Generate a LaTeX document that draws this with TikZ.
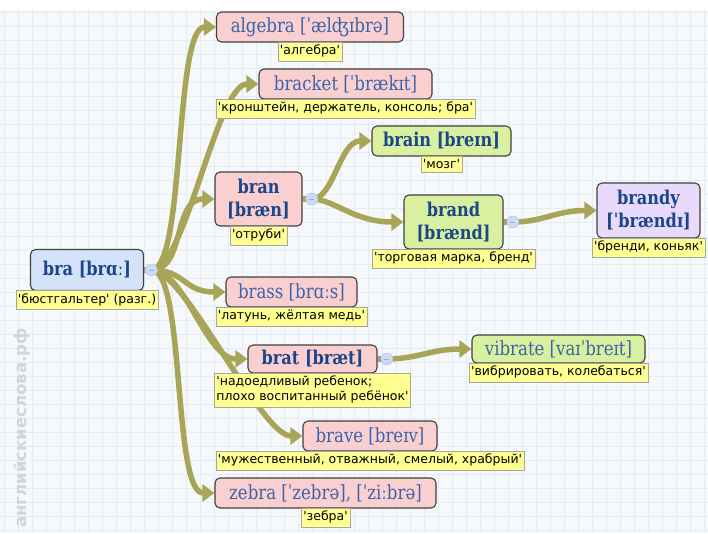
\documentclass[tikz,border=0pt]{standalone}
\usepackage{fontspec}
\setmainfont{DejaVu Serif}[FakeStretch=0.85]
\newfontfamily\glossfont{DejaVu Sans}[Ligatures=TeXOff]
\newfontfamily\markfont{DejaVu Sans}
\usetikzlibrary{positioning,arrows.meta}

\definecolor{linkolive}{RGB}{168,165,88}
\definecolor{wordpink}{RGB}{250,207,207}
\definecolor{wordgreen}{RGB}{216,240,160}
\definecolor{wordviolet}{RGB}{232,218,250}
\definecolor{wordblue}{RGB}{212,226,250}
\definecolor{glossyellow}{RGB}{255,255,145}
\definecolor{inkblue}{RGB}{28,70,138}
\definecolor{inklight}{RGB}{60,100,170}
\definecolor{paper}{RGB}{246,249,252}
\definecolor{gridblue}{RGB}{228,235,243}
\definecolor{knobblue}{RGB}{205,220,245}

\pgfdeclarelayer{grid}
\pgfdeclarelayer{links}
\pgfsetlayers{grid,links,main}

\tikzset{
  lex/.style={draw=black!75, line width=1.1pt, rounded corners=5pt,
    minimum height=30pt, inner xsep=4pt, inner ysep=2pt, align=center},
  lexplain/.style={lex, text=inklight, font=\fontsize{19.5}{23}\selectfont},
  lexbold/.style={lex, text=inkblue, font=\fontsize{19}{23}\selectfont\bfseries},
  gloss/.style={draw=black!35, fill=glossyellow, inner xsep=2pt, inner ysep=3.5pt,
    align=left, font=\glossfont\fontsize{12.5}{15}\selectfont},
  link/.style={draw=linkolive, line width=5.5pt, -{Triangle[length=12pt,width=17pt]}},
  knob/.style={circle, draw=knobblue!70!blue!60, fill=knobblue, line width=0.6pt,
    minimum size=12pt, inner sep=0pt,
    path picture={\draw[inkblue!45, line width=0.8pt]
      ([xshift=-2.5pt]path picture bounding box.center) --
      ([xshift=2.5pt]path picture bounding box.center);}},
  gridline/.style={draw=gridblue, line width=0.5pt}
}

\begin{document}
\begin{tikzpicture}[x=1pt,y=-1pt]
  \useasboundingbox (0,0) rectangle (708,533);
  \begin{pgfonlayer}{grid}
    \fill[paper] (0,10) rectangle (708,533);
    \foreach \gx in {4,18,...,708} \draw[gridline] (\gx,10) -- (\gx,533);
    \foreach \gy in {12,26,...,533} \draw[gridline] (0,\gy) -- (708,\gy);
  \end{pgfonlayer}

  % watermark
  \node[rotate=90, text=black!17, font=\markfont\bfseries\fontsize{16.5}{16.5}\selectfont]
    (mark) at (22,428) {английскиеслова.рф};

  % words
  \node[lexbold, fill=wordblue, minimum width=113pt, minimum height=41pt] (bra) at (87,270) {bra [brɑː]};
  \node[lexplain, fill=wordpink, minimum width=187pt] (algebra) at (310,27) {algebra [ˈælʤɪbrə]};
  \node[lexplain, fill=wordpink, minimum width=173pt] (bracket) at (345.5,84) {bracket [ˈbrækɪt]};
  \node[lexbold, fill=wordpink, minimum width=87pt, minimum height=54pt] (bran) at (258.5,199) {bran\\{[bræn]}};
  \node[lexbold, fill=wordgreen, minimum width=139pt] (brain) at (441.5,141) {brain [breɪn]};
  \node[lexbold, fill=wordgreen, minimum width=99pt, minimum height=54pt] (brand) at (453.5,222) {brand\\{[brænd]}};
  \node[lexbold, fill=wordviolet, minimum width=103pt, minimum height=55pt] (brandy) at (648.5,210.5) {brandy\\{[ˈbrændɪ]}};
  \node[lexplain, fill=wordpink, minimum width=131pt] (brass) at (291.5,292) {brass [brɑːs]};
  \node[lexbold, fill=wordpink, minimum width=129pt, minimum height=28pt] (brat) at (312.5,359) {brat [bræt]};
  \node[lexplain, fill=wordgreen, minimum width=173pt, minimum height=28pt] (vibrate) at (558.5,349) {vibrate [vaɪˈbreɪt]};
  \node[lexplain, fill=wordpink, minimum width=134pt] (brave) at (370,436) {brave [breɪv]};
  \node[lexplain, fill=wordpink, minimum width=221pt] (zebra) at (325.5,493) {zebra [ˈzebrə], [ˈziːbrə]};

  % glosses
  \node[gloss, below=-1pt of bra] (bragl) {'бюстгальтер' (разг.)};
  \node[gloss, below=-1pt of algebra] (algebragl) {'алгебра'};
  \node[gloss, below=-1pt of bracket] (bracketgl) {'кронштейн, держатель, консоль; бра'};
  \node[gloss, below=-1pt of bran] (brangl) {'отруби'};
  \node[gloss, below=-1pt of brain] (braingl) {'мозг'};
  \node[gloss, below=-1pt of brand] (brandgl) {'торговая марка, бренд'};
  \node[gloss, below=-1pt of brandy] (brandygl) {'бренди, коньяк'};
  \node[gloss, below=-1pt of brass] (brassgl) {'латунь, жёлтая медь'};
  \node[gloss, below=-1pt of brat] (bratgl) {'надоедливый ребенок;\\плохо воспитанный ребёнок'};
  \node[gloss, below=-1pt of vibrate] (vibrategl) {'вибрировать, колебаться'};
  \node[gloss, below=-1pt of brave] (bravegl) {'мужественный, отважный, смелый, храбрый'};
  \node[gloss, below=-1pt of zebra] (zebragl) {'зебра'};

  % knobs
  \node[knob, right=1pt of bra] (braknob) {};
  \node[knob, right=3pt of bran] (branknob) {};
  \node[knob, right=3pt of brand] (brandknob) {};
  \node[knob, right=3pt of brat] (bratknob) {};

  % links
  \begin{pgfonlayer}{links}
    \foreach \kid in {algebra,bracket,bran,brass,brat,brave,zebra}
      \draw[link] (braknob.center) .. controls +(34,0) and +(-42,0) .. (\kid.west);
    \draw[link] (branknob.center) .. controls +(22,0) and +(-32,0) .. (brain.west);
    \draw[link] (branknob.center) .. controls +(22,0) and +(-50,0) .. (brand.west);
    \draw[link] (brandknob.center) .. controls +(30,0) and +(-40,0) .. (brandy.west);
    \draw[link] (bratknob.center) .. controls +(30,0) and +(-40,0) .. (vibrate.west);
    \foreach \src in {bra,bran,brand,brat}
      \draw[link, -] (\src.east) -- (\src knob.center);
  \end{pgfonlayer}
\end{tikzpicture}
\end{document}
